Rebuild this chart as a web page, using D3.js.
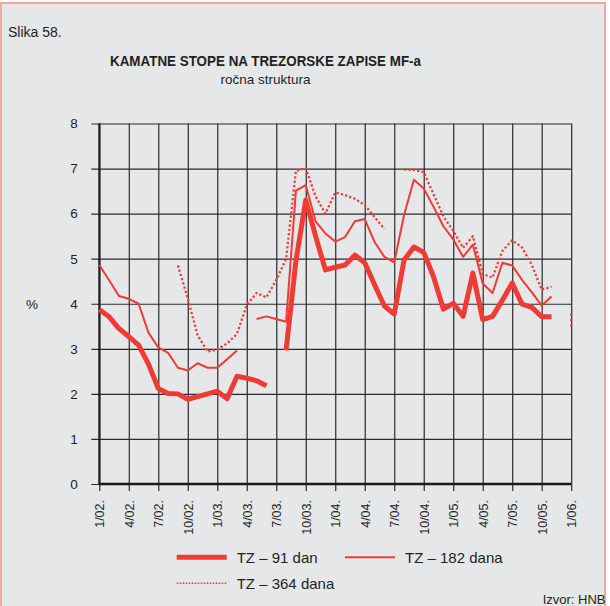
<!DOCTYPE html>
<html>
<head>
<meta charset="utf-8">
<script src="https://cdn.jsdelivr.net/npm/d3@7"></script>
<style>
  html, body { margin: 0; padding: 0; background: #ffffff; }
  svg { display: block; }
  text { font-family: "Liberation Sans", Arial, Helvetica, sans-serif; fill: #231f20; }
</style>
</head>
<body>
<script>
// Monthly observations, January 2002 to January 2006
const categories = [
  "1/02.","2/02.","3/02.","4/02.","5/02.","6/02.","7/02.","8/02.","9/02.","10/02.","11/02.","12/02.",
  "1/03.","2/03.","3/03.","4/03.","5/03.","6/03.","7/03.","8/03.","9/03.","10/03.","11/03.","12/03.",
  "1/04.","2/04.","3/04.","4/04.","5/04.","6/04.","7/04.","8/04.","9/04.","10/04.","11/04.","12/04.",
  "1/05.","2/05.","3/05.","4/05.","5/05.","6/05.","7/05.","8/05.","9/05.","10/05.","11/05.","12/05.",
  "1/06."
];

const tickLabels = ["1/02.","4/02.","7/02.","10/02.","1/03.","4/03.","7/03.","10/03.",
  "1/04.","4/04.","7/04.","10/04.","1/05.","4/05.","7/05.","10/05.","1/06."];

const yTicks = [0, 1, 2, 3, 4, 5, 6, 7, 8];

// Interest rates on MoF treasury bills, % (null = no auction)
const tz91 = [
  3.87, 3.71, 3.45, 3.27, 3.08, 2.66, 2.12, 2.01, 2.00, 1.88, 1.94, 2.00,
  2.06, 1.89, 2.39, 2.35, 2.29, 2.18, null, 2.97, 4.95, 6.30, 5.50, 4.75,
  4.81, 4.86, 5.08, 4.91, 4.42, 3.95, 3.77, 4.97, 5.26, 5.14, 4.60, 3.88,
  4.01, 3.72, 4.68, 3.65, 3.72, 4.08, 4.46, 3.99, 3.92, 3.71, 3.71, null,
  null
];

const tz182 = [
  4.86, 4.52, 4.17, 4.11, 4.00, 3.36, 3.03, 2.91, 2.58, 2.52, 2.68, 2.58,
  2.58, 2.77, 2.96, null, 3.66, 3.72, 3.66, 3.60, 6.51, 6.63, 5.83, 5.56,
  5.38, 5.48, 5.83, 5.88, 5.37, 5.04, 4.92, 5.97, 6.75, 6.56, 6.15, 5.72,
  5.43, 5.04, 5.31, 4.45, 4.24, 4.91, 4.85, 4.53, 4.25, 3.96, 4.16, null,
  null
];

const tz364 = [
  null, null, null, null, null, null, null, null, 4.85, 4.12, 3.30, 2.94,
  2.98, 3.12, 3.33, 3.97, 4.24, 4.14, 4.53, 4.99, 6.95, 7.01, 6.38, 6.00,
  6.47, 6.41, 6.33, 6.19, 5.92, 5.66, null, 6.98, 6.97, 6.92, 6.43, 5.94,
  5.62, 5.24, 5.50, 4.66, 4.58, 5.17, 5.41, 5.25, 4.86, 4.31, 4.38, null,
  null
];

// Short trace at the January 2006 edge
const tz364Edge = [3.79, 3.42];

const seriesNames = ["TZ \u2013 91 dan", "TZ \u2013 182 dana", "TZ \u2013 364 dana"];

const W = 610, H = 606;
const red = "#ef3b34";
const ink = "#231f20";

const svg = d3.select("body").append("svg")
  .attr("width", W).attr("height", H);

// Panel background and frame
svg.append("rect").attr("x", 0).attr("y", 0).attr("width", W).attr("height", H).attr("fill", "#ffffff");
svg.append("rect")
  .attr("x", 1).attr("y", 3).attr("width", 604).attr("height", 620)
  .attr("fill", "#e6e7e9").attr("stroke", "#f0948f").attr("stroke-width", 1.6);

// Headings
svg.append("text").attr("x", 8).attr("y", 36.5).attr("font-size", 14).text("Slika 58.");
svg.append("text").attr("x", 265.5).attr("y", 65.5).attr("text-anchor", "middle")
  .attr("font-size", 15.5).attr("font-weight", "bold")
  .attr("textLength", 311).attr("lengthAdjust", "spacingAndGlyphs")
  .text("KAMATNE STOPE NA TREZORSKE ZAPISE MF-a");
svg.append("text").attr("x", 265.5).attr("y", 84).attr("text-anchor", "middle")
  .attr("font-size", 13.5).text("ročna struktura");

// Scales
const x = d3.scalePoint().domain(categories).range([99.3, 571.2]);
const y = d3.scaleLinear().domain([0, 8]).range([484, 123.5]);
const x0 = x.range()[0], x1 = x.range()[1];
const yBase = y(0), yTop = y(8);

// Horizontal grid with outward ticks and value labels
const yAxis = d3.axisLeft(y).tickValues(yTicks).tickFormat(d3.format("d"))
  .tickSize(-(x1 - x0 + 8)).tickPadding(13.5);
const gy = svg.append("g").attr("transform", `translate(${x0 - 8},0)`).call(yAxis);
gy.select(".domain").remove();
gy.selectAll("line").attr("stroke", "#2a2a2a").attr("stroke-width", 1.2);
gy.selectAll("text").attr("font-size", 13.5).attr("fill", ink)
  .attr("font-family", "Liberation Sans, Arial, sans-serif");

// Vertical grid every quarter with ticks below the base line
const xAxis = d3.axisBottom(x).tickValues(tickLabels)
  .tickSize(-(yBase - yTop + 7)).tickPadding(0);
const gx = svg.append("g").attr("transform", `translate(0,${yBase + 7})`).call(xAxis);
gx.select(".domain").remove();
gx.selectAll("line").attr("stroke", "#2a2a2a").attr("stroke-width", 1.2);
gx.selectAll("text")
  .attr("transform", "rotate(-90)")
  .attr("text-anchor", "end")
  .attr("x", -9).attr("y", 0).attr("dy", "0.36em")
  .attr("font-size", 12.5).attr("fill", ink)
  .attr("font-family", "Liberation Sans, Arial, sans-serif");

// Axis lines
svg.append("line").attr("x1", x0).attr("x2", x1).attr("y1", yBase).attr("y2", yBase)
  .attr("stroke", "#1a1a1a").attr("stroke-width", 2.6);
svg.append("line").attr("x1", x0).attr("x2", x0).attr("y1", yTop).attr("y2", yBase)
  .attr("stroke", "#1a1a1a").attr("stroke-width", 2);

svg.append("text").attr("x", 32).attr("y", 309).attr("text-anchor", "middle")
  .attr("font-size", 13.5).text("%");

// Series
const line = d3.line()
  .defined(d => d != null)
  .x((d, i) => x(categories[i]))
  .y(d => y(d));

const styles = [
  { data: tz91, width: 5, dash: null },
  { data: tz182, width: 2, dash: null },
  { data: tz364, width: 2.3, dash: "2.2,2.2" }
];

const gl = svg.append("g");
styles.forEach(s => {
  gl.append("path")
    .attr("d", line(s.data))
    .attr("fill", "none")
    .attr("stroke", red)
    .attr("stroke-width", s.width)
    .attr("stroke-linejoin", "round")
    .attr("stroke-dasharray", s.dash);
});

gl.append("line")
  .attr("x1", x(categories[48])).attr("x2", x(categories[48]))
  .attr("y1", y(tz364Edge[0])).attr("y2", y(tz364Edge[1]))
  .attr("stroke", red).attr("stroke-width", 2.3).attr("stroke-dasharray", "2.2,3.5");

// Legend
const legend = [
  { name: seriesNames[0], lx: 176.7, ly: 557.3, width: 5, dash: null },
  { name: seriesNames[1], lx: 345, ly: 557.3, width: 2, dash: null },
  { name: seriesNames[2], lx: 176.7, ly: 583.3, width: 1.6, dash: "1.6,1.4" }
];
const lg = svg.append("g").selectAll("g").data(legend).join("g");
lg.append("line")
  .attr("x1", d => d.lx).attr("x2", d => d.lx + 50)
  .attr("y1", d => d.ly).attr("y2", d => d.ly)
  .attr("stroke", red).attr("stroke-width", d => d.width)
  .attr("stroke-dasharray", d => d.dash);
lg.append("text")
  .attr("x", d => d.lx + 60).attr("y", d => d.ly + 5.5)
  .attr("font-size", 15).text(d => d.name);

svg.append("text").attr("x", 605.5).attr("y", 603.5).attr("text-anchor", "end")
  .attr("font-size", 13).text("Izvor: HNB");
</script>
</body>
</html>
